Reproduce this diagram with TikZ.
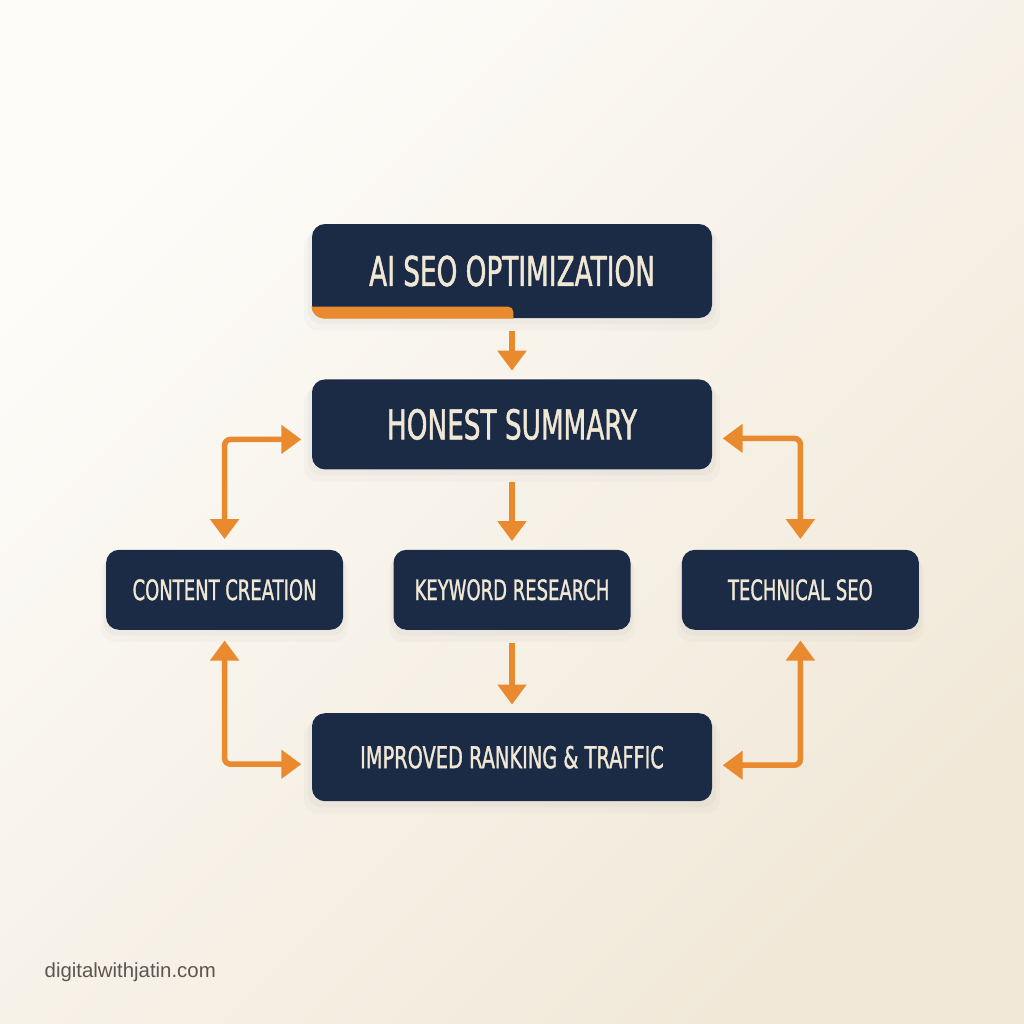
\documentclass[tikz,border=0pt]{standalone}
\usepackage{fontspec}
\setmainfont{DejaVu Sans}
\newfontfamily\boxfont[FakeStretch=0.64, FakeBold=1.1]{DejaVu Sans}
\newfontfamily\webfont{Liberation Sans}
\usetikzlibrary{positioning, arrows.meta, shadows}
\definecolor{navy}{HTML}{1C2B45}
\definecolor{cream}{HTML}{F0E8D5}
\definecolor{flow}{HTML}{E98A2E}
\definecolor{paperA}{HTML}{FDFCF9}
\definecolor{paperB}{HTML}{F1E8D8}
\definecolor{sitegray}{HTML}{5A5650}

\begin{document}
\begin{tikzpicture}[node distance=0.6cm,
    box/.style={fill=navy, text=cream, rounded corners=0.13cm, align=center, inner sep=0pt,
      drop shadow={opacity=0.05, shadow xshift=0pt, shadow yshift=-0.05cm, shadow scale=1.02},
      drop shadow={opacity=0.04, shadow xshift=0pt, shadow yshift=-0.1cm, shadow scale=1.04}},
    bigbox/.style={box, minimum width=4cm, font=\boxfont\fontsize{11.7}{14}\selectfont},
    smallbox/.style={box, minimum width=2.37cm, minimum height=0.8cm, font=\boxfont\fontsize{8}{10}\selectfont},
    flowarrow/.style={draw=flow, line width=0.055cm, -{Triangle[width=0.28cm,length=0.2cm]},
      shorten <=0.12cm, shorten >=0.08cm},
    looparrow/.style={draw=flow, line width=0.055cm, rounded corners=0.06cm,
      {Triangle[width=0.28cm,length=0.2cm]}-{Triangle[width=0.28cm,length=0.2cm]},
      shorten <=0.1cm, shorten >=0.1cm}]
  % background
  \shade[top color=paperA, bottom color=paperB, shading angle=45] (0,0) rectangle (10.24,-10.24);
  \useasboundingbox (0,0) rectangle (10.24,-10.24);

  % boxes
  \node[bigbox, minimum height=0.94cm] (seo) at (5.12,-2.71) {AI SEO OPTIMIZATION};
  \node[bigbox, minimum height=0.9cm, below=0.6cm of seo] (honest) {HONEST SUMMARY};
  \node[smallbox, below=0.79cm of honest] (keyword) {KEYWORD RESEARCH};
  \node[smallbox, left=0.49cm of keyword] (content) {CONTENT CREATION};
  \node[smallbox, right=0.5cm of keyword] (technical) {TECHNICAL SEO};
  \node[bigbox, minimum height=0.88cm, font=\boxfont\fontsize{8.6}{10}\selectfont,
    below=0.82cm of keyword] (improved) {IMPROVED RANKING \& TRAFFIC};

  % orange strip on the top box
  \begin{scope}
    \clip[rounded corners=0.13cm] (seo.south west) rectangle (seo.north east);
    \fill[flow, rounded corners=0.05cm] ([xshift=-0.1cm, yshift=-0.1cm]seo.south west)
      rectangle ([xshift=2.02cm, yshift=0.12cm]seo.south west);
  \end{scope}

  % arrows
  \draw[flowarrow] (seo) -- (honest);
  \draw[flowarrow] (honest) -- (keyword);
  \draw[flowarrow] (keyword) -- (improved);
  \draw[looparrow] (content.north) |- ([yshift=-0.15cm]honest.west);
  \draw[looparrow] (technical.north) |- ([yshift=-0.14cm]honest.east);
  \draw[looparrow] (content.south) |- ([yshift=-0.07cm]improved.west);
  \draw[looparrow] (technical.south) |- ([yshift=-0.08cm]improved.east);

  \node[font=\webfont\fontsize{5.8}{7}\selectfont, text=sitegray, anchor=west, inner sep=0pt]
    (site) at (0.44,-9.72) {digitalwithjatin.com};
\end{tikzpicture}
\end{document}
